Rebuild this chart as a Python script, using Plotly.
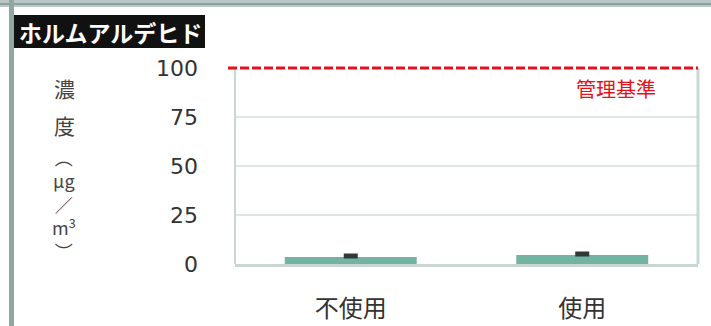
import plotly.graph_objects as go

categories = ["不使用", "使用"]
values = [3.6, 4.6]
errors = [1.0, 1.0]
y_ticks = [0, 25, 50, 75, 100]
y_max = 100
standard_value = 100
title_text = "ホルムアルデヒド"
standard_label = "管理基準"

W, H = 711, 326
L, R, T, B = 235, 698, 68, 264

def px(x):
    return (x - L) / (R - L)

def py(y):
    return (B - y) / (B - T)

fig = go.Figure()
fig.add_trace(go.Bar(
    x=categories, y=values, width=0.57,
    marker=dict(color="#72b4a1", line=dict(width=0)),
    error_y=dict(type="data", array=errors, symmetric=False, arrayminus=[0, 0],
                 color="#2f3a37", thickness=3, width=7),
))

shapes = [
    # outer frame
    dict(type="rect", xref="paper", yref="paper", x0=px(0), x1=px(W), y0=py(0), y1=py(7),
         fillcolor="#b9c8c4", line=dict(width=0), layer="above"),
    dict(type="line", xref="paper", yref="paper", x0=px(0), x1=px(W), y0=py(4), y1=py(4),
         line=dict(color="#8fa39e", width=2), layer="above"),
    dict(type="rect", xref="paper", yref="paper", x0=px(9), x1=px(14), y0=py(0), y1=py(H),
         fillcolor="#93a7a2", line=dict(width=0), layer="above"),
    # title box
    dict(type="rect", xref="paper", yref="paper", x0=px(14), x1=px(205), y0=py(15), y1=py(48),
         fillcolor="#111111", line=dict(width=0), layer="above"),
    # plot borders
    dict(type="line", xref="paper", yref="paper", x0=0, x1=0, y0=0, y1=1,
         line=dict(color="#c9d6d2", width=2)),
    dict(type="line", xref="paper", yref="paper", x0=1, x1=1, y0=0, y1=1,
         line=dict(color="#c9d6d2", width=3)),
    # standard line (paper y computed from the data value so it is not clipped)
    dict(type="line", xref="paper", yref="paper", x0=px(228), x1=1,
         y0=standard_value / y_max, y1=standard_value / y_max,
         line=dict(color="#e5121c", width=3, dash="9px,3px"), layer="above"),
]

ann = [
    dict(x=px(110), y=py(32), text="<b>" + title_text + "</b>",
         font=dict(color="white", size=23, family="Noto Sans CJK JP")),
    dict(x=px(616), y=py(88), text=standard_label,
         font=dict(color="#e5121c", size=20, family="Noto Sans CJK JP")),
    dict(x=px(64), y=py(88), text="濃",
         font=dict(color="#444444", size=21, family="Noto Sans CJK JP")),
    dict(x=px(64), y=py(125), text="度",
         font=dict(color="#444444", size=21, family="Noto Sans CJK JP")),
    dict(x=px(64), y=py(204), text="︵<br>μg<br>／<br>m<sup>3</sup><br>︶",
         font=dict(color="#444444", size=18, family="Noto Sans CJK JP")),
]
for a in ann:
    a.update(xref="paper", yref="paper", showarrow=False, xanchor="center", yanchor="middle")

fig.update_layout(
    width=W, height=H,
    margin=dict(l=L, r=W - R, t=T, b=H - B, autoexpand=False),
    paper_bgcolor="white", plot_bgcolor="white",
    showlegend=False,
    shapes=shapes, annotations=ann,
    bargap=0.43,
    xaxis=dict(showline=True, linecolor="#c9d6d2", linewidth=3, ticks="", automargin=False,
               tickfont=dict(size=24, color="#333333", family="Noto Sans CJK JP"),
               ticklabelstandoff=21),
    yaxis=dict(range=[0, y_max], tickvals=y_ticks, showgrid=True, gridcolor="#dfe5e3", gridwidth=2,
               zeroline=False, showline=False, ticks="", automargin=False,
               tickfont=dict(size=22, color="#333333", family="DejaVu Sans"),
               ticklabelstandoff=36),
)

fig.write_html("out.html")
